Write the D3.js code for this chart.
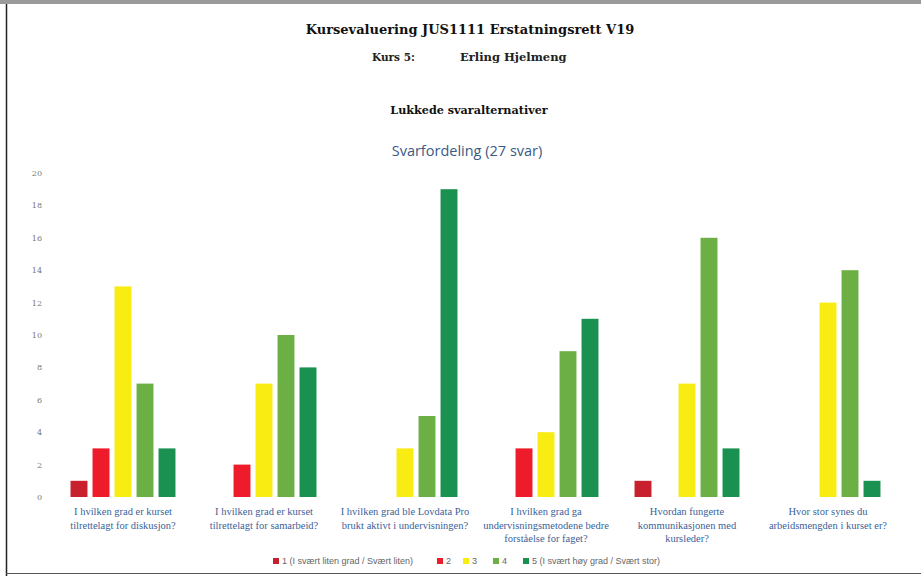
<!DOCTYPE html>
<html><head><meta charset="utf-8">
<script src="https://cdn.jsdelivr.net/npm/d3@7"></script>
<style>body{margin:0;background:#fff;}svg{display:block;}</style>
</head><body>
<script>
const categories = [
  ["I hvilken grad er kurset", "tilrettelagt for diskusjon?"],
  ["I hvilken grad er kurset", "tilrettelagt for samarbeid?"],
  ["I hvilken grad ble Lovdata Pro", "brukt aktivt i undervisningen?"],
  ["I hvilken grad ga", "undervisningsmetodene bedre", "forståelse for faget?"],
  ["Hvordan fungerte", "kommunikasjonen med", "kursleder?"],
  ["Hvor stor synes du", "arbeidsmengden i kurset er?"]
];
const seriesNames = ["1 (I svært liten grad / Svært liten)", "2", "3", "4", "5 (I svært høy grad / Svært stor)"];
const s1 = [1, 0, 0, 0, 1, 0];
const s2 = [3, 2, 0, 3, 0, 0];
const s3 = [13, 7, 3, 4, 7, 12];
const s4 = [7, 10, 5, 9, 16, 14];
const s5 = [3, 8, 19, 11, 3, 1];
const yTicks = [0, 2, 4, 6, 8, 10, 12, 14, 16, 18, 20];
const colors = ["#c8202e", "#ee1c2a", "#f8ec12", "#6cb045", "#1a9150"];

const series = [s1, s2, s3, s4, s5];
const W = 921, H = 576;
const svg = d3.select("body").append("svg").attr("width", W).attr("height", H);

// frame
svg.append("rect").attr("x", 0).attr("y", 0).attr("width", W).attr("height", 4).attr("fill", "#9a9a9a");
svg.append("line").attr("x1", 6.5).attr("x2", 6.5).attr("y1", 4).attr("y2", 576).attr("stroke", "#222").attr("stroke-width", 1.5);
svg.append("line").attr("x1", 6).attr("x2", 921).attr("y1", 573.5).attr("y2", 573.5).attr("stroke", "#555").attr("stroke-width", 1);

const serif = "'DejaVu Serif', 'Liberation Serif', serif";
svg.append("text").attr("x", 470).attr("y", 34).attr("text-anchor", "middle")
  .attr("font-family", serif).attr("font-weight", "bold").attr("font-size", 13).attr("fill", "#111")
  .text("Kursevaluering JUS1111 Erstatningsrett V19");
svg.append("text").attr("x", 372).attr("y", 61).attr("font-family", serif).attr("font-weight", "bold")
  .attr("font-size", 10.5).attr("fill", "#222").text("Kurs 5:");
svg.append("text").attr("x", 460).attr("y", 61).attr("font-family", serif).attr("font-weight", "bold")
  .attr("font-size", 11.5).attr("fill", "#222").text("Erling Hjelmeng");
svg.append("text").attr("x", 469).attr("y", 114).attr("text-anchor", "middle")
  .attr("font-family", serif).attr("font-weight", "bold").attr("font-size", 11.2).attr("fill", "#111")
  .text("Lukkede svaralternativer");
svg.append("text").attr("x", 467).attr("y", 156).attr("text-anchor", "middle")
  .attr("font-family", "'Open Sans', sans-serif").attr("font-size", 14.5).attr("fill", "#3a5a86")
  .text("Svarfordeling (27 svar)");

const y = d3.scaleLinear().domain([0, 20]).range([497, 173]);
const x0 = d3.scaleBand().domain(d3.range(categories.length)).range([52.5, 898.5]).padding(0);
const bw = x0.bandwidth();
const x1 = d3.scaleBand().domain(d3.range(series.length))
  .range([(bw - 110) / 2, (bw + 110) / 2]).paddingInner(0.23).paddingOuter(0.115);

// y axis
const yAxis = d3.axisLeft(y).tickValues(yTicks).tickSize(0).tickPadding(0);
const ga = svg.append("g").attr("transform", "translate(42,0)").call(yAxis);
ga.select(".domain").remove();
ga.selectAll("text").attr("font-family", serif).attr("font-size", 8).attr("fill", "#777");

// bars
const g = svg.append("g");
categories.forEach((c, i) => {
  const gg = g.append("g").attr("transform", `translate(${x0(i)},0)`);
  series.forEach((s, k) => {
    if (s[i] > 0) {
      gg.append("rect").attr("x", x1(k)).attr("width", x1.bandwidth())
        .attr("y", y(s[i])).attr("height", y(0) - y(s[i])).attr("fill", colors[k]);
    }
  });
  const t = svg.append("text").attr("text-anchor", "middle")
    .attr("font-family", "'Liberation Serif', serif").attr("font-size", 10.5).attr("fill", "#3b5f9a");
  c.forEach((line, j) => {
    t.append("tspan").attr("x", x0(i) + bw / 2).attr("y", 515 + j * 13.5).text(line);
  });
});

// legend
const legX = [273, 437, 463, 493, 523];
const lg = svg.append("g");
seriesNames.forEach((n, k) => {
  lg.append("rect").attr("x", legX[k]).attr("y", 558).attr("width", 6).attr("height", 6).attr("fill", colors[k]);
  lg.append("text").attr("x", legX[k] + 9).attr("y", 564).attr("font-family", "'Liberation Sans', sans-serif")
    .attr("font-size", 9).attr("fill", "#666").text(n);
});
</script>
</body></html>
